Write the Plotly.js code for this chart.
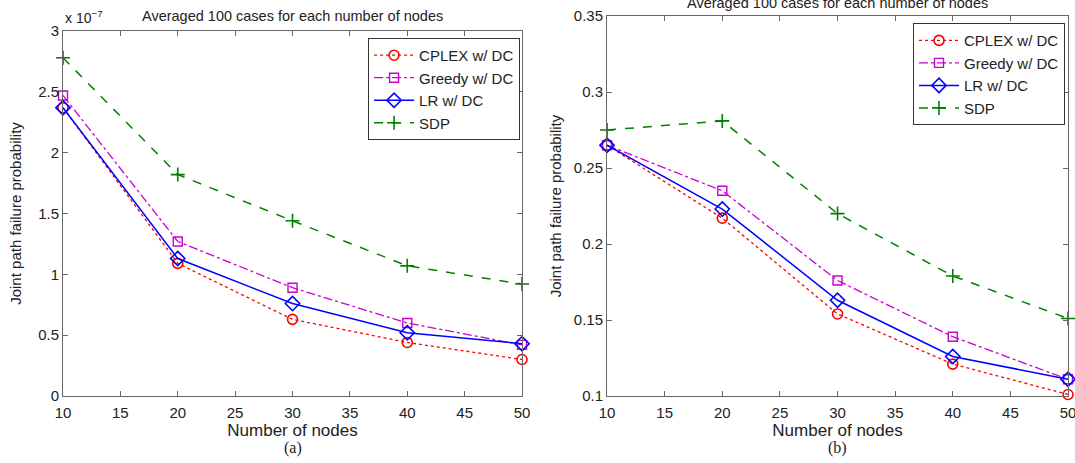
<!DOCTYPE html>
<html><head><meta charset="utf-8">
<script src="https://cdn.plot.ly/plotly-3.0.1.min.js"></script>
<style>body{margin:0;padding:0;background:#fff}#c{width:1075px;height:463px}</style>
</head><body><div id="c"></div>
<script>
const nodes = [10, 20, 30, 40, 50];
// Panel (a), values in units of 1e-7
const aCPLEX  = [2.37, 1.09, 0.63, 0.44, 0.30];
const aGreedy = [2.47, 1.27, 0.89, 0.60, 0.42];
const aLR     = [2.37, 1.13, 0.76, 0.52, 0.43];
const aSDP    = [2.78, 1.82, 1.44, 1.07, 0.92];
// Panel (b)
const bCPLEX  = [0.265, 0.217, 0.154, 0.121, 0.101];
const bGreedy = [0.265, 0.235, 0.176, 0.139, 0.111];
const bLR     = [0.265, 0.223, 0.163, 0.126, 0.111];
const bSDP    = [0.275, 0.281, 0.220, 0.179, 0.151];
const names = ['CPLEX w/ DC', 'Greedy w/ DC', 'LR w/ DC', 'SDP'];
const xTicks = [10, 15, 20, 25, 30, 35, 40, 45, 50];
const aTicks = [0, 0.5, 1, 1.5, 2, 2.5, 3];
const bTicks = [0.1, 0.15, 0.2, 0.25, 0.3, 0.35];

const styles = [
  {line:{color:'#ff0000', dash:'dot', width:1.3}, marker:{symbol:'circle-open', size:10, color:'#ff0000', line:{width:1.6}}},
  {line:{color:'#cc00cc', dash:'dashdot', width:1.3}, marker:{symbol:'square-open', size:9, color:'#cc00cc', line:{width:1.4}}},
  {line:{color:'#0000ff', dash:'solid', width:1.5}, marker:{symbol:'diamond-open', size:11, color:'#0000ff', line:{width:1.6}}},
  {line:{color:'#008000', dash:'dash', width:1.5}, marker:{symbol:'cross-thin-open', size:10, color:'#008000', line:{width:1.6, color:'#008000'}}}
];
const aSeries = [aCPLEX, aGreedy, aLR, aSDP];
const bSeries = [bCPLEX, bGreedy, bLR, bSDP];
const traces = [];
aSeries.forEach((s,i)=>traces.push(Object.assign({x:nodes, y:s, name:names[i], mode:'lines+markers', cliponaxis:false, xaxis:'x', yaxis:'y', legend:'legend'}, styles[i])));
bSeries.forEach((s,i)=>traces.push(Object.assign({x:nodes, y:s, name:names[i], mode:'lines+markers', cliponaxis:false, xaxis:'x2', yaxis:'y2', legend:'legend2'}, styles[i])));

const fam = 'Liberation Sans, Arial, sans-serif';
const font = {family:fam, color:'#222'};
const ax = {showgrid:false, zeroline:false, showline:true, linecolor:'#666', linewidth:1, mirror:'ticks',
  ticks:'inside', ticklen:5, tickcolor:'#666', ticklabeloverflow:'allow', tickfont:{size:15, family:fam, color:'#222'}};
const leg = {bgcolor:'#fff', bordercolor:'#333', borderwidth:1, font:{size:15, family:fam, color:'#222'},
  xanchor:'right', yanchor:'top', tracegroupgap:0, itemwidth:40};

const layout = {
  width:1075, height:463, margin:{l:0, r:0, t:0, b:0}, paper_bgcolor:'#fff', plot_bgcolor:'#fff', font:font,
  showlegend:true,
  xaxis:Object.assign({}, ax, {domain:[0.0586,0.4856], range:[10,50], tickvals:xTicks, anchor:'y', ticklabelstandoff:3,
    title:{text:'Number of nodes', font:{size:17}, standoff:2}}),
  yaxis:Object.assign({}, ax, {domain:[0.1447,0.933], range:[0,3], tickvals:aTicks, ticktext:aTicks.map(String), anchor:'x',
    title:{text:'Joint path failure probability', font:{size:15}, standoff:12}}),
  xaxis2:Object.assign({}, ax, {domain:[0.5647,0.9935], range:[10,50], tickvals:xTicks, anchor:'y2', ticklabelstandoff:3,
    title:{text:'Number of nodes', font:{size:17}, standoff:2}}),
  yaxis2:Object.assign({}, ax, {domain:[0.1447,0.9654], range:[0.1,0.35], tickvals:bTicks, ticktext:bTicks.map(String), anchor:'x2',
    title:{text:'Joint path failure probability', font:{size:15}, standoff:8}}),
  legend:Object.assign({}, leg, {x:0.4838, y:0.918}),
  legend2:Object.assign({}, leg, {x:0.9907, y:0.950}),
  annotations:[
    {xref:'paper', yref:'paper', x:0.0586, y:0.94, xanchor:'left', yanchor:'bottom', showarrow:false,
      text:'x 10<sup>−7</sup>', font:{size:14, family:fam, color:'#222'}},
    {xref:'paper', yref:'paper', x:0.2721, y:0.988, xanchor:'center', yanchor:'top', showarrow:false,
      text:'Averaged 100 cases for each number of nodes', font:{size:14.5, family:fam, color:'#222'}},
    {xref:'paper', yref:'paper', x:0.779, y:1.016, xanchor:'center', yanchor:'top', showarrow:false,
      text:'Averaged 100 cases for each number of nodes', font:{size:14.5, family:fam, color:'#222'}},
    {xref:'paper', yref:'paper', x:0.2721, y:0.008, xanchor:'center', yanchor:'bottom', showarrow:false,
      text:'(a)', font:{size:16, family:'Liberation Serif, Times New Roman, serif', color:'#222'}},
    {xref:'paper', yref:'paper', x:0.779, y:0.008, xanchor:'center', yanchor:'bottom', showarrow:false,
      text:'(b)', font:{size:16, family:'Liberation Serif, Times New Roman, serif', color:'#222'}}
  ]
};
Plotly.newPlot('c', traces, layout, {displayModeBar:false, staticPlot:true});
</script></body></html>
